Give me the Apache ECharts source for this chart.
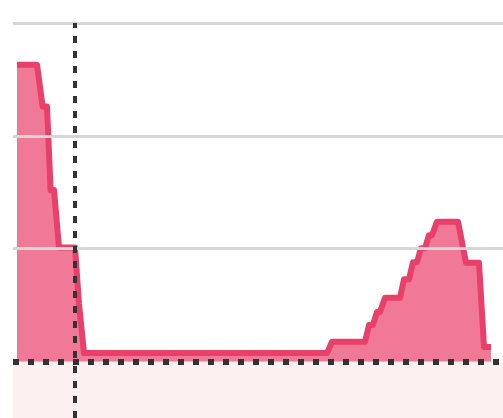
<!DOCTYPE html>
<html>
<head>
<meta charset="utf-8">
<script src="https://cdn.jsdelivr.net/npm/echarts@6/dist/echarts.min.js"></script>
<style>html,body{margin:0;padding:0;background:#fff;}#c{width:503px;height:418px;}</style>
</head>
<body>
<div id="c"></div>
<script>
const xValues = [0, 5, 6.4, 7.5, 8.4, 9.25, 10.5, 14.5, 15.5, 16, 16.75, 77.5, 78.75, 87, 88, 89, 90, 90.75, 92, 95.75, 96.75, 98, 99, 100, 101, 102, 103, 103.75, 105, 110.25, 112.25, 115.5, 116.75, 118.5];
const yValues = [26.3, 26.3, 22.6, 22.6, 15.2, 15.2, 10.1, 10.1, 5.1, 5.1, 0.75, 0.75, 1.75, 1.75, 3.25, 3.25, 4.4, 4.4, 5.65, 5.65, 7.3, 7.3, 8.8, 8.8, 10.05, 10.05, 11.2, 11.2, 12.4, 12.4, 8.75, 8.75, 1.3, 1.3];
const gridValues = [10, 20, 30];
const baselineValue = 0;
const nowX = 14.5;
const bandMin = -5;
const xMin = -1, xMax = 121.5, yMax = 30;

const seriesData = xValues.map((x, i) => [x, yValues[i]]);

const chart = echarts.init(document.getElementById('c'), null, {renderer: 'canvas'});
chart.setOption({
  animation: false,
  grid: {left: 13, right: 0, top: 23, bottom: 0},
  xAxis: {type: 'value', min: xMin, max: xMax, show: false, splitLine: {show: false}},
  yAxis: {type: 'value', min: bandMin, max: yMax, show: false, splitLine: {show: false}},
  series: [
    {
      type: 'line', data: [], z: 1, silent: true,
      markArea: {
        silent: true,
        itemStyle: {color: '#fdf0f1'},
        data: [[{yAxis: bandMin}, {yAxis: baselineValue}]]
      },
      markLine: {
        silent: true, symbol: 'none', label: {show: false},
        lineStyle: {color: '#d6d6d6', width: 3, type: 'solid'},
        data: gridValues.map(v => ({yAxis: v}))
      }
    },
    {
      type: 'line', data: seriesData, z: 2, showSymbol: false, symbol: 'none',
      lineStyle: {color: '#e8406a', width: 6, join: 'round', cap: 'butt'},
      areaStyle: {color: '#e8406a', opacity: 0.7}
    },
    {
      type: 'line', data: [], z: 3, silent: true,
      markLine: {
        silent: true, symbol: 'none', label: {show: false},
        data: [
          {yAxis: baselineValue, lineStyle: {color: '#333', width: 6, type: [6, 9], cap: 'butt'}},
          {xAxis: nowX, lineStyle: {color: '#333', width: 4, type: [7, 8], cap: 'butt'}}
        ]
      }
    }
  ]
});
</script>
</body>
</html>
